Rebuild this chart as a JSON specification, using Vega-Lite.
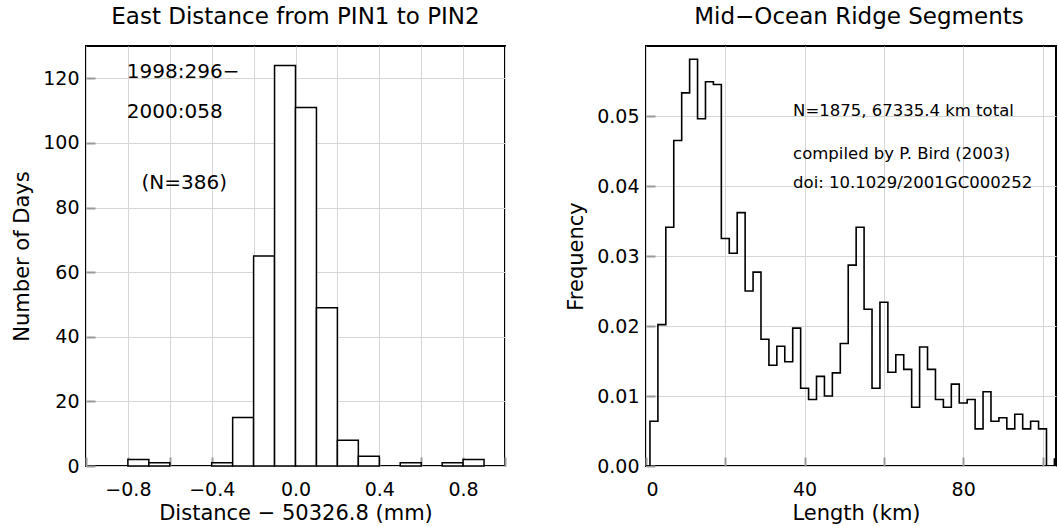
{
  "$schema": "https://vega.github.io/schema/vega-lite/v6.json",
  "padding": {"left": 10, "top": 5, "right": 0, "bottom": 3},
  "spacing": 141,
  "bounds": "flush",
  "config": {
    "font": "DejaVu Sans",
    "view": {"stroke": "black", "strokeWidth": 2},
    "axis": {
      "grid": true, "gridColor": "#d6d6d6", "gridWidth": 1,
      "domain": false, "ticks": true, "tickSize": -9, "tickColor": "#9a9a9a", "tickWidth": 2,
      "labelFont": "DejaVu Sans", "labelFontSize": 19, "labelColor": "black",
      "titleFont": "DejaVu Sans", "titleFontSize": 21, "titleFontWeight": "normal", "titleColor": "black"
    },
    "axisX": {"labelPadding": 23, "titlePadding": 3},
    "axisY": {"labelPadding": 16, "titlePadding": 10},
    "title": {"font": "DejaVu Sans", "fontSize": 23, "fontWeight": "normal", "color": "black", "offset": 17}
  },
  "hconcat": [
    {
      "width": 419, "height": 420,
      "title": {"text": "East Distance from PIN1 to PIN2"},
      "layer": [
        {
          "data": {"values": [
            {"lo": -0.8, "hi": -0.7, "n": 2},
            {"lo": -0.7, "hi": -0.6, "n": 1},
            {"lo": -0.4, "hi": -0.3, "n": 1},
            {"lo": -0.3, "hi": -0.2, "n": 15},
            {"lo": -0.2, "hi": -0.1, "n": 65},
            {"lo": -0.1, "hi": 0.0, "n": 124},
            {"lo": 0.0, "hi": 0.1, "n": 111},
            {"lo": 0.1, "hi": 0.2, "n": 49},
            {"lo": 0.2, "hi": 0.3, "n": 8},
            {"lo": 0.3, "hi": 0.4, "n": 3},
            {"lo": 0.5, "hi": 0.6, "n": 1},
            {"lo": 0.7, "hi": 0.8, "n": 1},
            {"lo": 0.8, "hi": 0.9, "n": 2}
          ]},
          "mark": {"type": "rect", "fill": "white", "stroke": "black", "strokeWidth": 1.5},
          "encoding": {
            "x": {"field": "lo", "type": "quantitative",
              "scale": {"domain": [-1, 1], "nice": false, "zero": false},
              "axis": {"title": "Distance − 50326.8 (mm)", "values": [-1, -0.8, -0.6, -0.4, -0.2, 0, 0.2, 0.4, 0.6, 0.8, 1],
                "labelExpr": "abs(round(datum.value*10)) % 4 == 0 && abs(datum.value) < 0.95 ? format(datum.value, '.1f') : ''"}},
            "x2": {"field": "hi"},
            "y": {"field": "n", "type": "quantitative",
              "scale": {"domain": [0, 130], "nice": false},
              "axis": {"title": "Number of Days", "values": [0, 20, 40, 60, 80, 100, 120]}},
            "y2": {"datum": 0}
          }
        },
        {
          "data": {"values": [
            {"x": -0.805, "y": 122, "label": "1998:296−"},
            {"x": -0.805, "y": 109.5, "label": "2000:058"},
            {"x": -0.735, "y": 87.5, "label": "(N=386)"}
          ]},
          "mark": {"type": "text", "align": "left", "baseline": "middle", "fontSize": 20, "font": "DejaVu Sans", "color": "black"},
          "encoding": {
            "x": {"field": "x", "type": "quantitative"},
            "y": {"field": "y", "type": "quantitative"},
            "text": {"field": "label"}
          }
        }
      ]
    },
    {
      "width": 410, "height": 420,
      "title": {"text": "Mid−Ocean Ridge Segments", "dx": 8},
      "layer": [
        {
          "data": {"values": [
            {"len": 0, "freq": 0},
            {"len": 1, "freq": 0.0064},
            {"len": 3, "freq": 0.0202},
            {"len": 5, "freq": 0.0341},
            {"len": 7, "freq": 0.0465},
            {"len": 9, "freq": 0.0533},
            {"len": 11, "freq": 0.0581},
            {"len": 13, "freq": 0.0496},
            {"len": 15, "freq": 0.0549},
            {"len": 17, "freq": 0.0545},
            {"len": 19, "freq": 0.0325},
            {"len": 21, "freq": 0.0304},
            {"len": 23, "freq": 0.0362},
            {"len": 25, "freq": 0.0250},
            {"len": 27, "freq": 0.0277},
            {"len": 29, "freq": 0.0181},
            {"len": 31, "freq": 0.0144},
            {"len": 33, "freq": 0.0171},
            {"len": 35, "freq": 0.0149},
            {"len": 37, "freq": 0.0197},
            {"len": 39, "freq": 0.0111},
            {"len": 41, "freq": 0.0095},
            {"len": 43, "freq": 0.0128},
            {"len": 45, "freq": 0.0100},
            {"len": 47, "freq": 0.0133},
            {"len": 49, "freq": 0.0175},
            {"len": 51, "freq": 0.0287},
            {"len": 53, "freq": 0.0341},
            {"len": 55, "freq": 0.0224},
            {"len": 57, "freq": 0.0111},
            {"len": 59, "freq": 0.0234},
            {"len": 61, "freq": 0.0134},
            {"len": 63, "freq": 0.0159},
            {"len": 65, "freq": 0.0138},
            {"len": 67, "freq": 0.0084},
            {"len": 69, "freq": 0.0170},
            {"len": 71, "freq": 0.0138},
            {"len": 73, "freq": 0.0095},
            {"len": 75, "freq": 0.0084},
            {"len": 77, "freq": 0.0117},
            {"len": 79, "freq": 0.0090},
            {"len": 81, "freq": 0.0095},
            {"len": 83, "freq": 0.0053},
            {"len": 85, "freq": 0.0106},
            {"len": 87, "freq": 0.0064},
            {"len": 89, "freq": 0.0069},
            {"len": 91, "freq": 0.0053},
            {"len": 93, "freq": 0.0074},
            {"len": 95, "freq": 0.0053},
            {"len": 97, "freq": 0.0064},
            {"len": 99, "freq": 0.0053},
            {"len": 101, "freq": 0},
            {"len": 103, "freq": 0.0010},
            {"len": 105, "freq": 0}
          ]},
          "mark": {"type": "line", "interpolate": "step-after", "color": "black", "strokeWidth": 1.6, "clip": true},
          "encoding": {
            "x": {"field": "len", "type": "quantitative",
              "scale": {"domain": [0, 103.4], "nice": false, "zero": false},
              "axis": {"title": "Length (km)", "titleX": 210, "values": [0, 20, 40, 60, 80, 100],
                "labelExpr": "datum.value % 40 == 0 ? datum.label : ''"}},
            "y": {"field": "freq", "type": "quantitative",
              "scale": {"domain": [0, 0.06], "nice": false},
              "axis": {"title": "Frequency", "values": [0, 0.01, 0.02, 0.03, 0.04, 0.05], "format": ".2f"}}
          }
        },
        {
          "data": {"values": [
            {"x": 37.1, "y": 0.0507, "label": "N=1875, 67335.4 km total"},
            {"x": 37.1, "y": 0.0446, "label": "compiled by P. Bird (2003)"},
            {"x": 37.1, "y": 0.0405, "label": "doi: 10.1029/2001GC000252"}
          ]},
          "mark": {"type": "text", "align": "left", "baseline": "middle", "fontSize": 16.5, "font": "DejaVu Sans", "color": "black"},
          "encoding": {
            "x": {"field": "x", "type": "quantitative"},
            "y": {"field": "y", "type": "quantitative"},
            "text": {"field": "label"}
          }
        }
      ]
    }
  ]
}
